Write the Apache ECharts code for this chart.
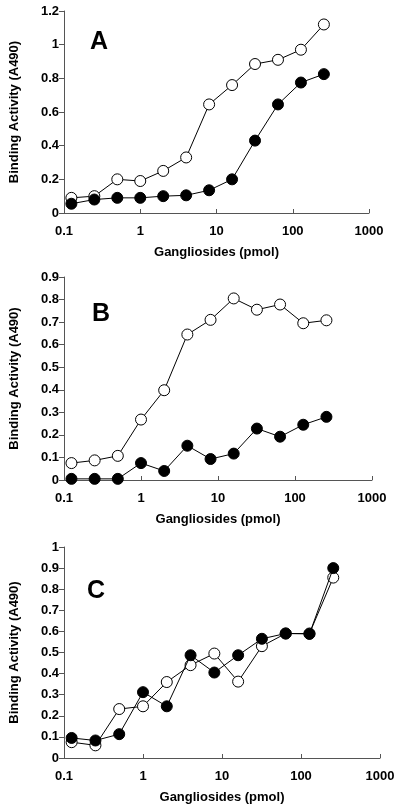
<!DOCTYPE html>
<html><head><meta charset="utf-8">
<script src="https://cdn.jsdelivr.net/npm/echarts@6/dist/echarts.min.js"></script>
<style>html,body{margin:0;padding:0;background:#fff}#c{width:400px;height:806px}</style>
</head><body><div id="c"></div>
<script>
const xValues = [0.125, 0.25, 0.5, 1, 2, 4, 8, 16, 32, 64, 128, 256];
const aOpen   = [0.09, 0.10, 0.20, 0.19, 0.25, 0.33, 0.645, 0.76, 0.885, 0.91, 0.97, 1.12];
const aFilled = [0.055, 0.08, 0.09, 0.09, 0.10, 0.105, 0.135, 0.20, 0.43, 0.645, 0.775, 0.825];
const bOpen   = [0.075, 0.087, 0.107, 0.268, 0.398, 0.645, 0.71, 0.805, 0.755, 0.778, 0.695, 0.708];
const bFilled = [0.005, 0.005, 0.005, 0.075, 0.04, 0.152, 0.093, 0.117, 0.228, 0.192, 0.245, 0.28];
const cOpen   = [0.075, 0.06, 0.232, 0.245, 0.36, 0.44, 0.495, 0.362, 0.53, 0.59, 0.59, 0.855];
const cFilled = [0.095, 0.083, 0.113, 0.312, 0.245, 0.487, 0.405, 0.487, 0.565, 0.59, 0.588, 0.90];
const panelLetters = ['A', 'B', 'C'];
const yMax = [1.2, 0.9, 1];
const yInterval = [0.2, 0.1, 0.1];
const xTitle = 'Gangliosides (pmol)';
const yTitle = 'Binding Activity (A490)';

const font = 'Liberation Sans, Arial, sans-serif';
const grids = [
  {left: 58, right: 31, top: 11, height: 202},
  {left: 58, right: 28, top: 277, height: 203},
  {left: 58, right: 20, top: 547, height: 211}
];
const xAxes = grids.map((g, i) => ({
  type: 'log', logBase: 10, min: 0.1, max: 1000, gridIndex: i,
  name: xTitle, nameLocation: 'middle', nameGap: 33,
  nameTextStyle: {fontFamily: font, fontWeight: 'bold', fontSize: 13, color: '#000'},
  axisLine: {lineStyle: {color: '#555', width: 1}},
  axisTick: {inside: true, length: 4, lineStyle: {color: '#555'}},
  minorTick: {show: false},
  splitLine: {show: false},
  axisLabel: {fontFamily: font, fontWeight: 'bold', fontSize: 13, color: '#000', margin: 12,
    formatter: v => String(+v.toPrecision(3))}
}));
const yAxes = grids.map((g, i) => ({
  type: 'value', min: 0, max: yMax[i], interval: yInterval[i], gridIndex: i,
  name: yTitle, nameLocation: 'middle', nameGap: 43,
  nameTextStyle: {fontFamily: font, fontWeight: 'bold', fontSize: 13, color: '#000'},
  axisLine: {show: true, lineStyle: {color: '#555', width: 1}},
  axisTick: {show: true, length: 5, lineStyle: {color: '#555'}},
  splitLine: {show: false},
  axisLabel: {fontFamily: font, fontWeight: 'bold', fontSize: 13, color: '#000', margin: 5,
    formatter: v => String(+v.toFixed(2))}
}));
function mk(vals, i, filled) {
  return {
    type: 'line', xAxisIndex: i, yAxisIndex: i,
    data: xValues.map((x, k) => [x, vals[k]]),
    symbol: 'circle', symbolSize: 11,
    itemStyle: {color: filled ? '#000' : '#fff', borderColor: '#000', borderWidth: 1},
    lineStyle: {color: '#000', width: 1},
    z: filled ? 3 : 2,
    animation: false
  };
}
const series = [
  mk(aOpen, 0, false), mk(aFilled, 0, true),
  mk(bOpen, 1, false), mk(bFilled, 1, true),
  mk(cOpen, 2, false), mk(cFilled, 2, true)
];
const letterPos = [[98, 43], [100, 315], [95, 592]];
const chart = echarts.init(document.getElementById('c'));
chart.setOption({
  animation: false,
  backgroundColor: '#fff',
  grid: grids,
  xAxis: xAxes,
  yAxis: yAxes,
  series: series,
  graphic: panelLetters.map((t, i) => ({
    type: 'text', left: letterPos[i][0] - 8, top: letterPos[i][1] - 13,
    style: {text: t, font: 'bold 25px ' + font, fill: '#000'}
  }))
});
</script></body></html>
